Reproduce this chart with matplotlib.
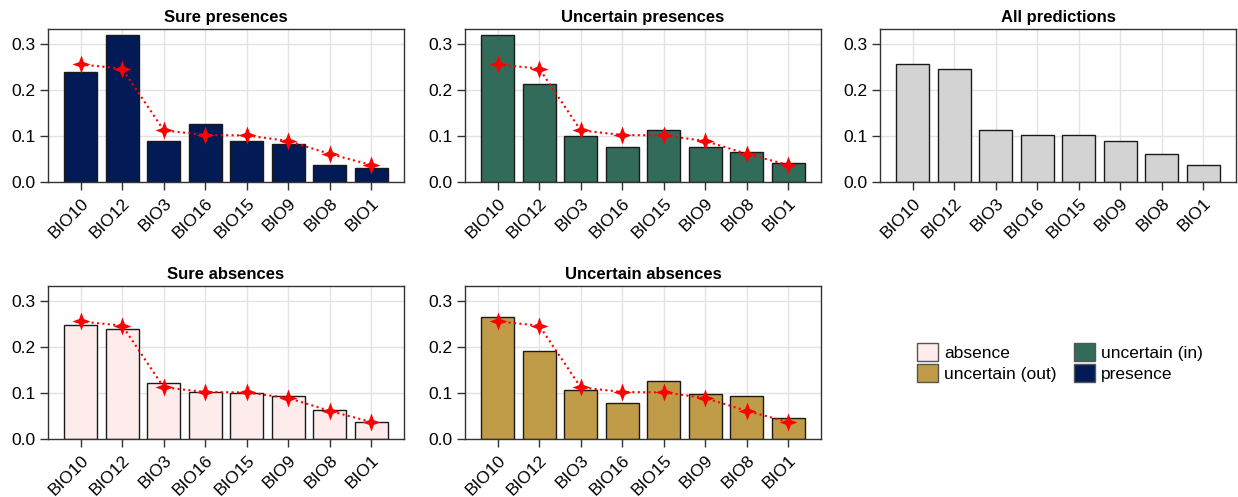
import matplotlib
matplotlib.use("Agg")
import matplotlib.pyplot as plt
import numpy as np
from matplotlib.path import Path
from matplotlib.patches import Patch

plt.rcParams['font.family'] = ['Liberation Sans', 'DejaVu Sans']
plt.rcParams['font.size'] = 12.5

variables = ['BIO10', 'BIO12', 'BIO3', 'BIO16', 'BIO15', 'BIO9', 'BIO8', 'BIO1']
all_pred = [0.255, 0.246, 0.112, 0.102, 0.101, 0.089, 0.061, 0.037]
sure_pres = [0.239, 0.319, 0.090, 0.125, 0.088, 0.082, 0.037, 0.031]
unc_pres = [0.319, 0.213, 0.100, 0.075, 0.112, 0.076, 0.066, 0.042]
sure_abs = [0.247, 0.239, 0.121, 0.103, 0.099, 0.093, 0.063, 0.037]
unc_abs = [0.265, 0.191, 0.107, 0.078, 0.126, 0.098, 0.093, 0.045]

legend_labels = ['absence', 'uncertain (out)', 'uncertain (in)', 'presence']

col_absence = '#feecec'
col_unc_out = '#c19c48'
col_unc_in = '#336b5b'
col_presence = '#021a56'
col_all = '#d3d3d3'

# 4 pointed star like makie :star4
r_in = 0.38
ang = np.deg2rad(np.arange(0, 360, 45) + 90)
rad = np.array([1, r_in] * 4)
verts = np.column_stack([rad * np.cos(ang), rad * np.sin(ang)])
verts = np.vstack([verts, verts[:1]])
star4 = Path(verts, closed=True)

fig = plt.figure(figsize=(12.38, 4.97), dpi=100)

lefts = [48 / 1238, 465 / 1238, 880 / 1238]
w = 356 / 1238
h = 153 / 497
b_top = (497 - 182) / 497
b_bot = (497 - 439) / 497

panels = [
    ('Sure presences', sure_pres, col_presence, lefts[0], b_top, True),
    ('Uncertain presences', unc_pres, col_unc_in, lefts[1], b_top, True),
    ('All predictions', all_pred, col_all, lefts[2], b_top, False),
    ('Sure absences', sure_abs, col_absence, lefts[0], b_bot, True),
    ('Uncertain absences', unc_abs, col_unc_out, lefts[1], b_bot, True),
]

x = np.arange(1, len(variables) + 1)
for title, vals, color, left, bottom, show_all in panels:
    ax = fig.add_axes([left, bottom, w, h])
    ax.set_axisbelow(True)
    ax.grid(True, color='#e3e3e3', linewidth=1)
    ax.bar(x, vals, width=0.8, color=color, edgecolor='#1a1a1a', linewidth=1)
    if show_all:
        ax.plot(x, all_pred, color='red', linestyle=(0, (1, 1.6)), linewidth=1.5,
                marker=star4, markersize=13, markeredgewidth=0, zorder=5)
    ax.set_xlim(0.21, 8.79)
    ax.set_ylim(0, 0.332)
    ax.set_yticks([0.0, 0.1, 0.2, 0.3])
    ax.set_yticklabels(['0.0', '0.1', '0.2', '0.3'])
    ax.set_xticks(x)
    ax.set_xticklabels(variables, rotation=45, ha='right', rotation_mode='anchor')
    ax.tick_params(axis='both', length=6, width=1, color='#333333', labelsize=12.5, pad=3)
    ax.tick_params(axis='x', pad=4)
    for s in ax.spines.values():
        s.set_color('#333333')
        s.set_linewidth(1)
    ax.set_title(title, fontweight='bold', fontsize=12, pad=5)

handles = [Patch(facecolor=c, edgecolor='#555555', linewidth=1)
           for c in [col_absence, col_unc_out, col_unc_in, col_presence]]
fig.legend(handles, legend_labels, ncol=2, loc='center',
           bbox_to_anchor=(1060 / 1238, 1 - 362.5 / 497), frameon=False,
           handlelength=1.2, handleheight=1.2, handletextpad=0.35,
           labelspacing=0.15, columnspacing=1.0, fontsize=12.5, borderpad=0)

fig.savefig('out.png', dpi=100)
